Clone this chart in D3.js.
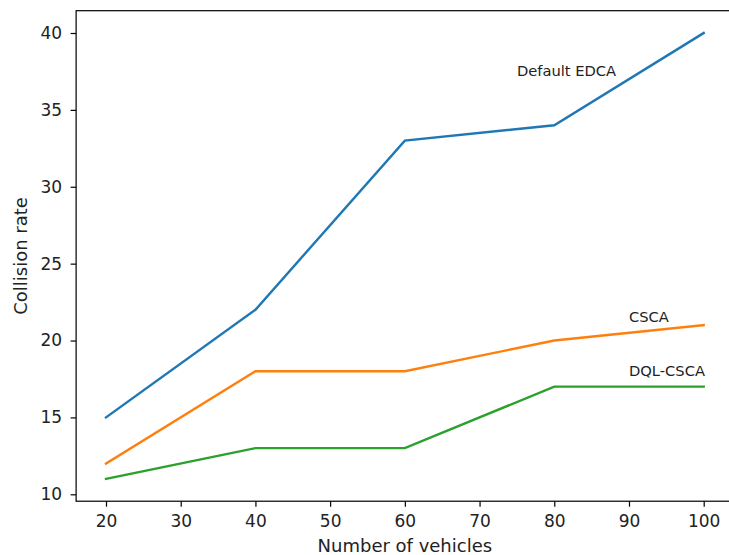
<!DOCTYPE html>
<html>
<head>
<meta charset="utf-8">
<script src="https://cdn.jsdelivr.net/npm/d3@7"></script>
<style>
  body { margin: 0; background: #fff; }
  svg { display: block; font-family: "DejaVu Sans", sans-serif; }
</style>
</head>
<body>
<div id="chart"></div>
<script>
// data
var vehicles = [20, 40, 60, 80, 100];
var edca = [15, 22, 33, 34, 40];
var csca = [12, 18, 18, 20, 21];
var dqlCsca = [11, 13, 13, 17, 17];
var xTicks = [20, 30, 40, 50, 60, 70, 80, 90, 100];
var yTicks = [10, 15, 20, 25, 30, 35, 40];

var series = [
  {name: "Default EDCA", values: edca, color: "#1f77b4", lx: 75, ly: 37.2},
  {name: "CSCA", values: csca, color: "#ff7f0e", lx: 90, ly: 21.2},
  {name: "DQL-CSCA", values: dqlCsca, color: "#2ca02c", lx: 90, ly: 17.7}
];

var W = 729, H = 555;

var svg = d3.select("#chart")
  .append("svg")
    .attr("width", W)
    .attr("height", H);

// tick positions measured: 20 -> 106, 100 -> 703.7 ; 10 -> 494.3, 40 -> 33
var x = d3.scaleLinear().domain([20, 100]).range([106, 703.7]);
var y = d3.scaleLinear().domain([10, 40]).range([494.3, 33]);

// matplotlib 5% margins
var x0 = x(16), x1 = x(104);
var y0 = y(9.55), y1 = y(41.45);

var line = d3.line()
  .x(function(d, i) { return x(vehicles[i]); })
  .y(function(d) { return y(d); });

svg.selectAll(".series")
  .data(series)
  .enter()
  .append("path")
    .attr("class", "series")
    .attr("fill", "none")
    .attr("stroke", function(d) { return d.color; })
    .attr("stroke-width", 2.4)
    .attr("stroke-linecap", "square")
    .attr("d", function(d) { return line(d.values); });

svg.selectAll(".lbl")
  .data(series)
  .enter()
  .append("text")
    .attr("class", "lbl")
    .attr("x", function(d) { return x(d.lx); })
    .attr("y", function(d) { return y(d.ly); })
    .attr("font-size", "14.7px")
    .attr("fill", "#222")
    .text(function(d) { return d.name; });

// axes
var xAxis = svg.append("g")
  .attr("transform", "translate(0," + y0 + ")")
  .call(d3.axisBottom(x).tickValues(xTicks).tickSize(5.5).tickPadding(8).tickSizeOuter(0));

var yAxis = svg.append("g")
  .attr("transform", "translate(" + x0 + ",0)")
  .call(d3.axisLeft(y).tickValues(yTicks).tickSize(5.5).tickPadding(8.5).tickSizeOuter(0));

[xAxis, yAxis].forEach(function(g) {
  g.select(".domain").remove();
  g.selectAll(".tick line").attr("stroke", "#000").attr("stroke-width", 1.2);
  g.selectAll(".tick text")
    .attr("font-size", "17px")
    .attr("fill", "#222")
    .attr("font-family", "DejaVu Sans, sans-serif");
});

// frame
svg.append("rect")
  .attr("x", x0)
  .attr("y", y1)
  .attr("width", x1 - x0)
  .attr("height", y0 - y1)
  .attr("fill", "none")
  .attr("stroke", "#000")
  .attr("stroke-width", 1.2);

svg.append("text")
  .attr("x", (x0 + x1) / 2)
  .attr("y", 552)
  .attr("text-anchor", "middle")
  .attr("font-size", "18px")
  .attr("fill", "#222")
  .text("Number of vehicles");

svg.append("text")
  .attr("transform", "translate(27," + ((y0 + y1) / 2) + ") rotate(-90)")
  .attr("text-anchor", "middle")
  .attr("font-size", "18px")
  .attr("fill", "#222")
  .text("Collision rate");
</script>
</body>
</html>
